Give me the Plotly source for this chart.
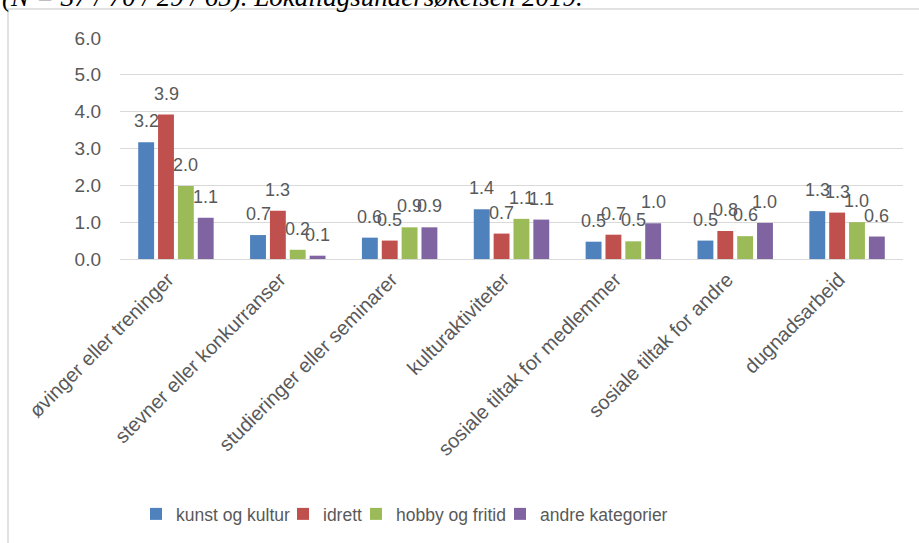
import plotly.graph_objects as go

categories = ["øvinger eller treninger", "stevner eller konkurranser", "studieringer eller seminarer",
              "kulturaktiviteter", "sosiale tiltak for medlemmer", "sosiale tiltak for andre", "dugnadsarbeid"]
series_names = ["kunst og kultur", "idrett", "hobby og fritid", "andre kategorier"]
kunst = [3.17, 0.65, 0.58, 1.35, 0.47, 0.50, 1.30]
idrett = [3.92, 1.31, 0.50, 0.69, 0.66, 0.76, 1.26]
hobby = [1.98, 0.25, 0.86, 1.09, 0.48, 0.62, 1.00]
andre = [1.12, 0.09, 0.86, 1.07, 0.97, 0.98, 0.61]
colors = ["#4F81BD", "#C0504D", "#9BBB59", "#8064A2"]
y_ticks = [0, 1, 2, 3, 4, 5, 6]
title_text = "(N = 37 / 70 / 29 / 65). Lokallagsundersøkelsen 2019."

W, H = 919, 543
L, R, T, B = 120, 16, 38, 284
pw, ph = W - L - R, H - T - B

font = "Liberation Sans, Arial, sans-serif"
grey = "#595959"


def px_to_paper_x(px):
    return (px - L) / pw


def px_to_paper_y(py):
    return (H - B - py) / ph


legend_ids = ["legend", "legend2", "legend3", "legend4"]
legend_x_px = [136, 283, 356, 500]

fig = go.Figure()
all_vals = [kunst, idrett, hobby, andre]
for name, vals, c, lid in zip(series_names, all_vals, colors, legend_ids):
    fig.add_trace(go.Bar(x=categories, y=vals, name=name, legend=lid,
                         marker=dict(color=c, line=dict(width=0))))

# data labels above bars
slot = pw / len(categories) * (1 - 0.29) / 4
annotations = []
for i, vals in enumerate(all_vals):
    off = (i - 1.5) * slot
    for cat, v in zip(categories, vals):
        annotations.append(dict(x=cat, y=v, xref="x", yref="y", text=f"{v:.1f}", showarrow=False,
                                xshift=off, yshift=21, font=dict(family=font, size=18, color=grey)))

annotations.append(dict(x=px_to_paper_x(0), y=px_to_paper_y(14), xref="paper", yref="paper",
                        xanchor="left", yanchor="bottom", text=f"<i>{title_text}</i>", showarrow=False,
                        font=dict(family="Liberation Serif, Times New Roman, serif", size=27, color="#000000")))

legend_common = dict(orientation="h", xanchor="left", y=px_to_paper_y(496), yanchor="top",
                     font=dict(family=font, size=17.5, color=grey), itemwidth=30, bgcolor="rgba(0,0,0,0)")
legends = {}
for lid, lx in zip(legend_ids, legend_x_px):
    legends[lid] = dict(legend_common, x=px_to_paper_x(lx))

fig.update_layout(
    width=W, height=H,
    margin=dict(l=L, r=R, t=T, b=B, autoexpand=False),
    paper_bgcolor="white", plot_bgcolor="white",
    barmode="group", bargap=0.29, bargroupgap=0.2,
    font=dict(family=font, size=18, color=grey),
    showlegend=True,
    annotations=annotations,
    shapes=[dict(type="rect", xref="paper", yref="paper", x0=px_to_paper_x(8), x1=px_to_paper_x(960),
                 y0=px_to_paper_y(600), y1=px_to_paper_y(9), line=dict(color="#D9D9D9", width=1.5),
                 fillcolor="rgba(0,0,0,0)", layer="below")],
    **legends,
)
fig.update_yaxes(range=[0, 6], tickvals=y_ticks, tickformat=".1f", showgrid=True, gridcolor="#D9D9D9",
                 gridwidth=1, zeroline=False, showline=False, ticks="", ticklabelstandoff=18,
                 tickfont=dict(family=font, size=19, color=grey))
fig.update_xaxes(tickangle=-45, showline=True, linecolor="#D9D9D9", linewidth=1, ticks="",
                 ticklabelshift=-8, tickfont=dict(family=font, size=20, color=grey))

fig.write_html("out.html", config={"displayModeBar": False},
               post_script="document.body.style.margin='0';")
